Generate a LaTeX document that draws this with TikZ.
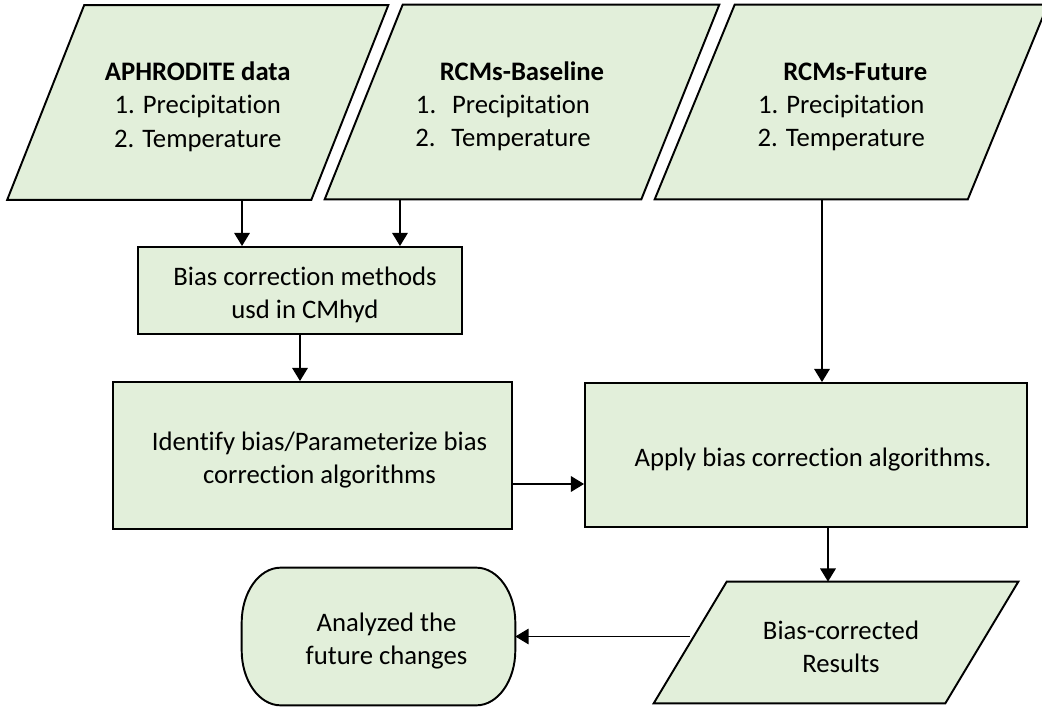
\documentclass[tikz,border=0pt]{standalone}
\usepackage{fontspec}
\setmainfont{Carlito}[Ligatures=NoCommon]
\usetikzlibrary{arrows.meta,backgrounds}
\definecolor{boxfill}{RGB}{226,239,218}
\newcommand{\tup}{\rule{0pt}{15.5pt}}
\tikzset{
  txt/.style={font=\fontsize{15.2}{19}\selectfont, align=center, inner sep=0pt, text=black},
  box/.style={txt, draw=black, fill=boxfill, line width=1.1pt},
  para/.style={txt, draw=none},
  shapeline/.style={draw=black, fill=boxfill, line width=1.1pt, line join=miter},
  arr/.style={line width=1.1pt, -{Triangle[width=8.8pt,length=7.5pt]}},
  thinarr/.style={line width=0.6pt, -{Triangle[width=8.8pt,length=7.5pt]}}
}
\begin{document}
\begin{tikzpicture}[x=0.02cm,y=-0.02cm]
\useasboundingbox (0,0) rectangle (1042,707);

% input parallelograms (text nodes sized to the shapes)
\node[para, minimum width=6.07cm, minimum height=3.88cm] (aph) at (197.75,102.5)
  {\tup\textbf{APHRODITE data}\\1. Precipitation\\2. Temperature};
\node[para, minimum width=6.32cm, minimum height=3.88cm] (base) at (522,102)
  {\tup\textbf{RCMs-Baseline}\\1.\hspace{9pt}Precipitation\kern0.76cm\\2.\hspace{9pt}Temperature\kern0.76cm};
\node[para, minimum width=6.25cm, minimum height=3.88cm] (fut) at (851.25,102)
  {\tup\kern0.16cm\textbf{RCMs-Future}\\1. Precipitation\kern0.4cm\\2. Temperature\kern0.4cm};

\node[box, minimum width=6.48cm, minimum height=1.74cm] (bias) at (300,290.5)
  {\tup\kern0.2cm Bias correction methods\\\kern0.2cm usd in CMhyd};
\node[box, minimum width=7.98cm, minimum height=2.94cm] (ident) at (312.5,455.5)
  {\tup\kern0.28cm Identify bias/Parameterize bias\\\kern0.28cm correction algorithms};
\node[box, minimum width=8.84cm, minimum height=2.88cm] (apply) at (806,455)
  {\tup\kern0.28cm Apply bias correction algorithms.};

\node[para, minimum width=5.82cm, minimum height=2.42cm] (bc) at (836,642.5)
  {\tup\kern0.2cm Bias-corrected\\\kern0.2cm Results};
\node[para, minimum width=5.46cm, minimum height=2.74cm] (term) at (378.5,636.5)
  {\tup\kern0.32cm Analyzed the\\\kern0.32cm future changes};

\begin{scope}[on background layer]
  \foreach \n/\s in {aph/0.77cm, base/0.78cm, fut/0.8cm, bc/0.73cm}{
    \path[shapeline] ([xshift=\s]\n.north west) -- ([xshift=\s]\n.north east)
      -- ([xshift=-\s]\n.south east) -- ([xshift=-\s]\n.south west) -- cycle;
  }
  \path[shapeline] ([xshift=0.78cm]term.north west) -- ([xshift=-0.78cm]term.north east)
    arc[start angle=90, end angle=0, x radius=0.78cm, y radius=1.1cm]
    -- ([yshift=1.1cm]term.south east)
    arc[start angle=0, end angle=-90, x radius=0.78cm, y radius=1.1cm]
    -- ([xshift=0.78cm]term.south west)
    arc[start angle=270, end angle=180, x radius=0.78cm, y radius=1.1cm]
    -- ([yshift=-1.1cm]term.north west)
    arc[start angle=180, end angle=90, x radius=0.78cm, y radius=1.1cm] -- cycle;
\end{scope}

% connectors
\draw[arr] ([xshift=-1.16cm]bias.north |- aph.south) -- ([xshift=-1.16cm]bias.north);
\draw[arr] ([xshift=2cm]bias.north |- base.south) -- ([xshift=2cm]bias.north);
\draw[arr] (bias.south) -- (bias.south |- ident.north);
\draw[arr] ([yshift=-0.57cm]ident.east) -- ([yshift=-0.57cm]ident.east -| apply.west);
\draw[arr] ([xshift=0.32cm]apply.north |- fut.south) -- ([xshift=0.32cm]apply.north);
\draw[arr] ([xshift=0.44cm]apply.south) -- ([xshift=0.44cm]apply.south |- bc.north);
\draw[thinarr] (term.east -| bc.west) -- (term.east);
\end{tikzpicture}
\end{document}
